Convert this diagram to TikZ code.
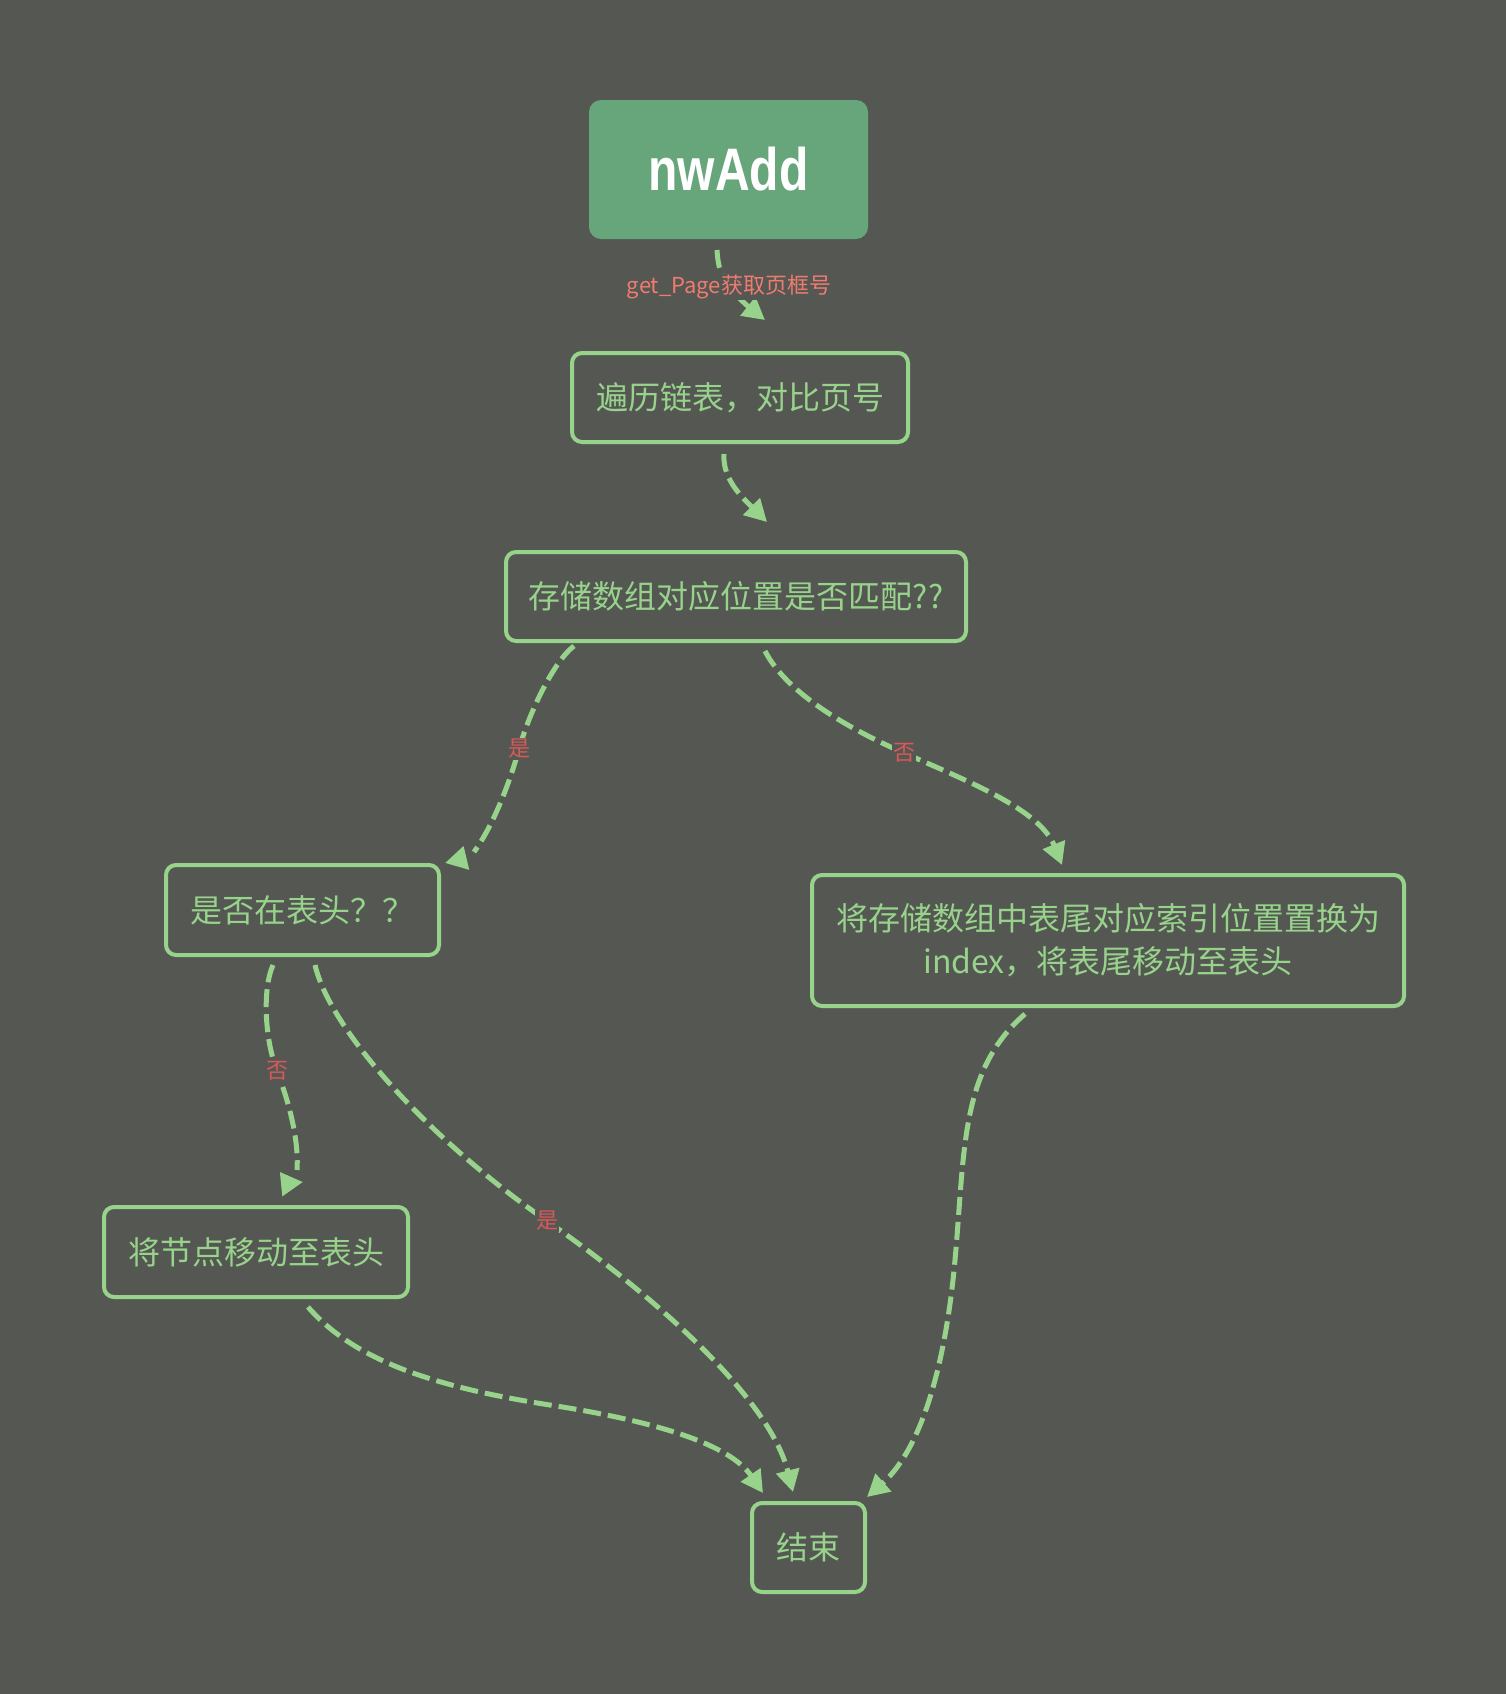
\documentclass[tikz,border=0pt]{standalone}
\usepackage{fontspec}
\usepackage{graphicx}
\newfontfamily\cjk{Noto Sans CJK SC}
\newfontfamily\titlef{Liberation Sans}
\usetikzlibrary{arrows.meta,calc}
\definecolor{bgc}{HTML}{555753}
\definecolor{grn}{HTML}{98D38C}
\definecolor{grnfill}{HTML}{67A67B}
\definecolor{salmon}{HTML}{F07C70}
\definecolor{lblred}{HTML}{D9595A}
\begin{document}
\begin{tikzpicture}[x=1pt,y=-1pt,
  box/.style={draw=grn,line width=4pt,rounded corners=10pt,text=grn,
    font=\cjk\fontsize{32}{43}\selectfont,align=center,inner sep=0pt},
  startbox/.style={fill=grnfill,rounded corners=12pt,text=white,inner sep=0pt,
    minimum width=279pt,minimum height=139pt},
  flow/.style={draw=grn,line width=5pt,dash pattern=on 18pt off 7pt,
    -{Triangle[length=22pt,width=23pt]}},
  lbl/.style={fill=bgc,text=lblred,font=\cjk\fontsize{22}{26}\selectfont,inner sep=1pt},
  toplbl/.style={lbl,text=salmon}]
\useasboundingbox[fill=bgc] (0,0) rectangle (1506,1694);

\node[startbox] (nA) at (728.5,169.5)
  {\scalebox{0.8}[1]{\titlef\bfseries\fontsize{60}{60}\selectfont nwAdd}};
\node[box,minimum width=336pt,minimum height=89pt] (n2) at (740,397.5) {遍历链表，对比页号};
\node[box,minimum width=460pt,minimum height=89pt] (n3) at (736,596.5) {存储数组对应位置是否匹配??};
\node[box,minimum width=273pt,minimum height=90pt] (n4) at (302.5,910) {是否在表头？？};
\node[box,minimum width=592pt,minimum height=131pt] (n5) at (1108,940.5)
  {将存储数组中表尾对应索引位置置换为\\index，将表尾移动至表头};
\node[box,minimum width=304pt,minimum height=90pt] (n6) at (256,1252) {将节点移动至表头};
\node[box,minimum width=113pt,minimum height=89pt] (n7) at (808.5,1547.5) {结束};

% nwAdd -> traverse
\draw[flow] ($(nA.center)+(-11.5,80.5)$) .. controls (718,268) and (722,278) .. (729,287)
  node[toplbl]{get\_Page获取页框号}
  .. controls (738,298) and (750,308) .. ($(n2.center)+(25,-77.5)$);
% traverse -> match?
\draw[flow] ($(n2.center)+(-16,56.5)$) .. controls (722,480) and (745,500) .. ($(n3.center)+(31,-74.5)$);
% match? -> head? (yes)
\draw[flow] ($(n3.center)+(-162,49.5)$) .. controls (555,660) and (530,710) .. (519,749)
  node[lbl]{是}
  .. controls (507,792) and (490,830) .. (474,852)
  ($(n4.center)+(163.5,-52)$) -- ($(n4.center)+(142.5,-47)$);
% match? -> swap (no)
\draw[flow] ($(n3.center)+(29,54.5)$) .. controls (785,690) and (840,725) .. (904,753)
  node[lbl]{否}
  .. controls (970,782) and (1040,810) .. ($(n5.center)+(-46,-75.5)$);
% head? -> move node (no)
\draw[flow] ($(n4.center)+(-29.5,55)$) .. controls (262,990) and (265,1040) .. (277,1071)
  node[lbl]{否}
  .. controls (289,1102) and (299,1140) .. (297,1170)
  ($(n6.center)+(27,-68)$) -- ($(n6.center)+(47,-70)$);
% head? -> end (yes)
\draw[flow] ($(n4.center)+(12.5,55)$) .. controls (330,1030) and (430,1140) .. (547,1221)
  node[lbl]{是}
  .. controls (660,1300) and (770,1400) .. ($(n7.center)+(-15.5,-55.5)$);
% move node -> end
\draw[flow] ($(n6.center)+(52,55)$) .. controls (350,1355) and (420,1385) .. (550,1405)
  .. controls (660,1422) and (730,1445) .. ($(n7.center)+(-45.5,-54.5)$);
% swap -> end
\draw[flow] ($(n5.center)+(-83,73.5)$) .. controls (960,1070) and (965,1150) .. (955,1260)
  .. controls (945,1370) and (920,1450) .. ($(n7.center)+(58.5,-50.5)$);
\end{tikzpicture}
\end{document}
